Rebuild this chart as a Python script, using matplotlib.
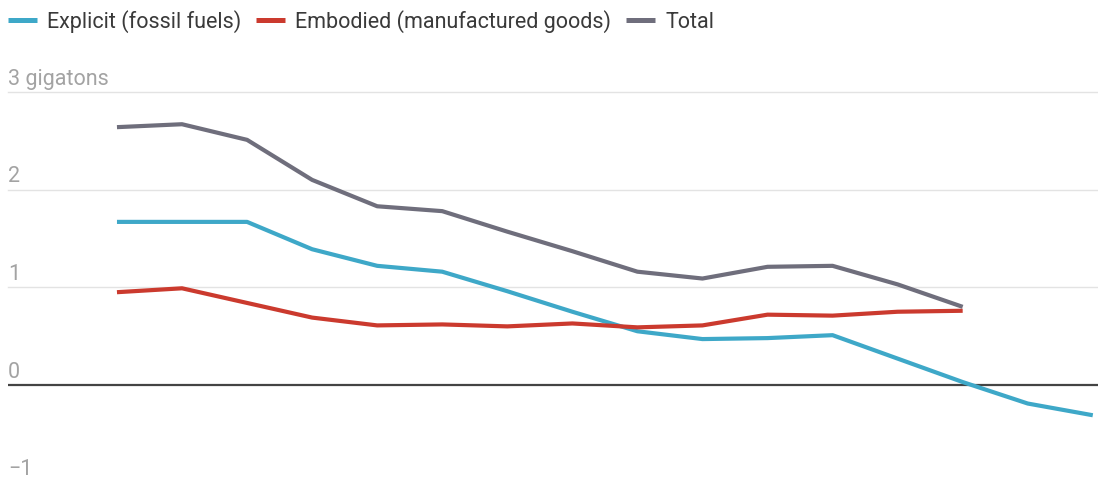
import matplotlib
matplotlib.use("Agg")
import matplotlib.pyplot as plt
import matplotlib.transforms as mtransforms
import numpy as np

# --- Data (gigatons CO2) ---
years_idx = np.arange(16)
explicit = [1.67, 1.67, 1.67, 1.39, 1.22, 1.16, 0.96, 0.75, 0.55, 0.47, 0.48, 0.51, 0.27, 0.03, -0.19, -0.31]
embodied = [0.95, 0.99, 0.84, 0.69, 0.61, 0.62, 0.60, 0.63, 0.59, 0.61, 0.72, 0.71, 0.75, 0.76]
total    = [2.64, 2.67, 2.51, 2.10, 1.83, 1.78, 1.57, 1.37, 1.16, 1.09, 1.21, 1.22, 1.03, 0.80]

y_ticks  = [3, 2, 1, 0, -1]
y_labels = ["3 gigatons", "2", "1", "0", "\u22121"]

series = [
    ("Explicit (fossil fuels)",         explicit, "#3ea8c8"),
    ("Embodied (manufactured goods)",   embodied, "#cb3a2e"),
    ("Total",                           total,    "#6f6e7c"),
]

plt.rcParams["font.family"] = ["Roboto", "DejaVu Sans"]

fig = plt.figure(figsize=(10.98, 4.81), dpi=100)
ax = fig.add_axes([8 / 1098, 0.0, 1 - 8 / 1098, 1 - 93 / 481])

handles = []
for label, vals, color in series:
    h, = ax.plot(years_idx[:len(vals)], vals, color=color, lw=3.0,
                 solid_capstyle="butt", solid_joinstyle="round", label=label, zorder=3)
    handles.append(h)

ax.set_xlim(-1.675, 15.08)
ax.set_ylim(-0.973, 3)

# gridlines + labels
trans = mtransforms.blended_transform_factory(ax.transAxes, ax.transData)
for v, lab in zip(y_ticks, y_labels):
    if v == 0:
        ax.axhline(0, color="#444444", lw=1.6, zorder=2)
    else:
        ax.axhline(v, color="#e3e3e3", lw=1.0, zorder=1, clip_on=False)
    ax.annotate(lab, xy=(0, v), xycoords=trans, xytext=(0, 6), textcoords="offset points",
                ha="left", va="baseline", fontsize=15.5, color="#a3a3a3", annotation_clip=False)

for s in ax.spines.values():
    s.set_visible(False)
ax.set_xticks([])
ax.set_yticks([])

leg = fig.legend(handles=handles, loc="center left", bbox_to_anchor=(8 / 1098, 1 - 22 / 481),
                 ncol=3, frameon=False, fontsize=15.5, handlelength=1.35, handletextpad=0.46,
                 columnspacing=0.7, borderaxespad=0, borderpad=0)
for t in leg.get_texts():
    t.set_color("#3a3a3a")
for lh in leg.legend_handles:
    lh.set_linewidth(3.6)

fig.savefig("out.png", dpi=100)
